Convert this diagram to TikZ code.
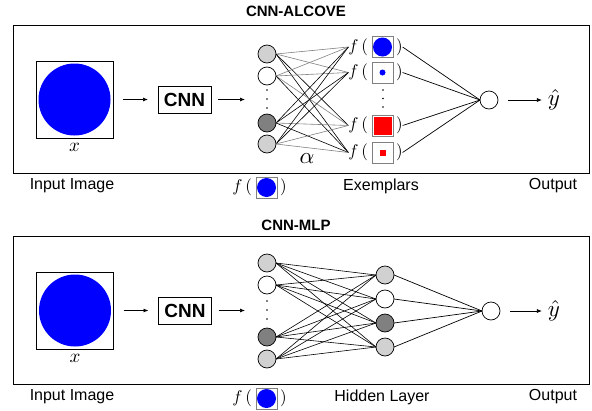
\documentclass[tikz,border=0pt]{standalone}
\usepackage{graphicx}
\usepackage{fontspec}
\setmainfont{Liberation Sans}
\usetikzlibrary{arrows.meta}

\newcommand{\mathlbl}[2]{\scalebox{#1}{$#2$}}

\begin{document}
\begin{tikzpicture}[x=1pt, y=-1pt, line width=0.7pt,
    every node/.style={inner sep=0pt, outer sep=0pt},
    unit/.style={circle, draw, minimum size=18pt},
    thumb/.style={draw=gray, minimum size=21pt},
    arr/.style={-{Latex[length=5pt, width=4pt]}},
    caption/.style={font=\fontsize{16}{18}\selectfont},
    title/.style={font=\bfseries\fontsize{15}{17}\selectfont}]

    \useasboundingbox (0,0) rectangle (592,410);

    % CNN-ALCOVE
    \node[title] (title1) at (296,11) {CNN-ALCOVE};
    \draw (13,25) rectangle (589,173);
    \node[draw, minimum size=77pt] (img1) at (74.5,99.5) {};
    \fill[blue] (img1.center) circle (36pt);
    \node (x1) at (74.5,147) {\mathlbl{1.9}{x}};
    \node[draw, minimum width=53pt, minimum height=27pt, font=\bfseries\fontsize{19}{21}\selectfont] (cnn1) at (184.5,99.5) {CNN};
    \coordinate (mid1) at (267,99.5);
    \draw[arr, shorten <=10pt, shorten >=10pt] (img1.east) -- (cnn1.west);
    \draw[arr, shorten <=7pt, shorten >=22pt] (cnn1.east) -- (mid1);

    \foreach \i/\y/\c in {1/54/black!18, 2/76/white, 3/123/black!50, 4/144/black!18}
        \node[unit, fill=\c] (a\i) at (267,\y) {};
    \foreach \y in {90,99,108}
        \fill (267,\y) circle (0.9pt);

    \foreach \j/\y in {1/47, 2/72.5, 3/125.5, 4/152.5} {
        \node[thumb] (e\j) at (382.5,\y) {};
        \node[anchor=east] (f\j) at ([xshift=-4pt]e\j.west) {\mathlbl{1.7}{f\,(}};
        \node[anchor=west] (p\j) at ([xshift=3pt]e\j.east) {\mathlbl{1.7}{)}};
    }
    \fill[blue] (e1.center) circle (9.5pt);
    \fill[blue] (e2.center) circle (3pt);
    \fill[red] ([shift={(-9pt,-9pt)}]e3.center) rectangle ([shift={(9pt,9pt)}]e3.center);
    \fill[red] ([shift={(-3pt,-3pt)}]e4.center) rectangle ([shift={(3pt,3pt)}]e4.center);
    \foreach \y in {90,98.5,107}
        \fill (383,\y) circle (0.9pt);

    \foreach \i/\j/\c in {1/1/gray, 1/2/gray, 1/3/black, 1/4/black,
                          2/1/gray, 2/2/gray, 2/3/gray, 2/4/black,
                          3/1/black, 3/2/black, 3/3/gray, 3/4/black,
                          4/1/black, 4/2/black, 4/3/gray, 4/4/gray}
        \draw[\c, line width=0.6pt] (a\i.east) -- (f\j.west);
    \node (alpha) at (307,159) {\mathlbl{2.3}{\alpha}};

    \node[unit, fill=white] (out1) at (489,100) {};
    \foreach \j in {1,...,4}
        \draw (p\j.east) -- (out1.west);
    \node (yhat1) at (554,100) {\mathlbl{2.3}{\hat{y}}};
    \draw[arr, shorten <=10pt, shorten >=6pt] (out1.east) -- (yhat1.west);

    \node[caption] (cap1) at (72,186) {Input Image};
    \node[thumb] (fx1) at (266.5,187.5) {};
    \fill[blue] (fx1.center) circle (9.5pt);
    \node[anchor=east] (fl1) at ([xshift=-4pt]fx1.west) {\mathlbl{1.7}{f\,(}};
    \node[anchor=west] (fr1) at ([xshift=3pt]fx1.east) {\mathlbl{1.7}{)}};
    \node[caption] (cap2) at (381,186) {Exemplars};
    \node[caption] (cap3) at (553,186) {Output};

    % CNN-MLP
    \node[title] (title2) at (296,225) {CNN-MLP};
    \draw (13,236) rectangle (589,384);
    \node[draw, minimum size=77pt] (img2) at (75,310.5) {};
    \fill[blue] (img2.center) circle (36pt);
    \node (x2) at (75,358) {\mathlbl{1.9}{x}};
    \node[draw, minimum width=53pt, minimum height=27pt, font=\bfseries\fontsize{19}{21}\selectfont] (cnn2) at (185,310.5) {CNN};
    \coordinate (mid2) at (267,310.5);
    \draw[arr, shorten <=10pt, shorten >=10pt] (img2.east) -- (cnn2.west);
    \draw[arr, shorten <=7pt, shorten >=22pt] (cnn2.east) -- (mid2);

    \foreach \i/\y/\c in {1/263/black!18, 2/285/white, 3/337/black!50, 4/359/black!18}
        \node[unit, fill=\c] (b\i) at (267,\y) {};
    \foreach \y in {301,310,319}
        \fill (267,\y) circle (0.9pt);

    \foreach \j/\y/\c in {1/275/black!18, 2/299/white, 3/323/black!50, 4/347/black!18}
        \node[unit, fill=\c] (h\j) at (385,\y) {};
    \foreach \i in {1,...,4}
        \foreach \j in {1,...,4}
            \draw[line width=0.6pt] (b\i.east) -- (h\j.west);

    \node[unit, fill=white] (out2) at (491,311) {};
    \foreach \j in {1,...,4}
        \draw (h\j.east) -- (out2.west);
    \node (yhat2) at (554,311) {\mathlbl{2.3}{\hat{y}}};
    \draw[arr, shorten <=10pt, shorten >=6pt] (out2.east) -- (yhat2.west);

    \node[caption] (cap4) at (72,397) {Input Image};
    \node[thumb] (fx2) at (266.5,398.5) {};
    \fill[blue] (fx2.center) circle (9.5pt);
    \node[anchor=east] (fl2) at ([xshift=-4pt]fx2.west) {\mathlbl{1.7}{f\,(}};
    \node[anchor=west] (fr2) at ([xshift=3pt]fx2.east) {\mathlbl{1.7}{)}};
    \node[caption] (cap5) at (382,397) {Hidden Layer};
    \node[caption] (cap6) at (553,397) {Output};

\end{tikzpicture}
\end{document}
